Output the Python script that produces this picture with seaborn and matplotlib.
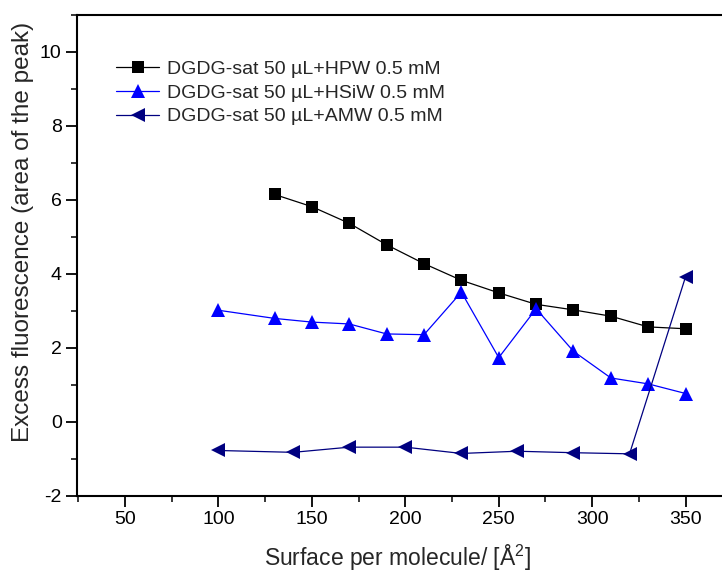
import pandas as pd
import matplotlib
matplotlib.use('Agg')
import matplotlib.pyplot as plt
import seaborn as sns
from matplotlib.ticker import MultipleLocator

# data
hpw_x = [130, 150, 170, 190, 210, 230, 250, 270, 290, 310, 330, 350]
hpw_y = [6.15, 5.82, 5.37, 4.79, 4.28, 3.83, 3.49, 3.18, 3.03, 2.86, 2.57, 2.52]

hsiw_x = [100, 130, 150, 170, 190, 210, 230, 250, 270, 290, 310, 330, 350]
hsiw_y = [3.02, 2.80, 2.70, 2.65, 2.38, 2.36, 3.51, 1.74, 3.06, 1.91, 1.19, 1.03, 0.77]

amw_x = [100, 140, 170, 200, 230, 260, 290, 320, 350]
amw_y = [-0.77, -0.82, -0.68, -0.68, -0.85, -0.79, -0.83, -0.86, 3.93]

labels = ['DGDG-sat 50 \u00b5L+HPW 0.5 mM',
          'DGDG-sat 50 \u00b5L+HSiW 0.5 mM',
          'DGDG-sat 50 \u00b5L+AMW 0.5 mM']

frames = []
for lab, xs, ys in zip(labels, [hpw_x, hsiw_x, amw_x], [hpw_y, hsiw_y, amw_y]):
    frames.append(pd.DataFrame({'x': xs, 'y': ys, 'series': lab}))
df = pd.concat(frames, ignore_index=True)

sns.set_style('ticks')
plt.rcParams['font.family'] = ['Liberation Sans', 'DejaVu Sans']
plt.rcParams['mathtext.fontset'] = 'custom'
plt.rcParams['mathtext.rm'] = 'Liberation Sans'
plt.rcParams['axes.unicode_minus'] = False

fig = plt.figure(figsize=(7.22, 5.74), dpi=100)
ax = fig.add_axes([77 / 722, (574 - 496) / 574, 660 / 722, (496 - 15) / 574])

colors = {labels[0]: 'black', labels[1]: '#0000ff', labels[2]: '#000080'}
markers = {labels[0]: 's', labels[1]: '^', labels[2]: '<'}
sizes = {labels[0]: 8.5, labels[1]: 9.5, labels[2]: 9.5}

for lab in labels:
    sub = df[df['series'] == lab]
    sns.lineplot(data=sub, x='x', y='y', ax=ax, color=colors[lab], marker=markers[lab],
                 markersize=sizes[lab], markeredgewidth=0, linewidth=0.9,
                 sort=False, label=lab)

ax.set_xlim(24.3, 377.5)
ax.set_ylim(-2, 11)
ax.xaxis.set_minor_locator(MultipleLocator(25))
ax.yaxis.set_minor_locator(MultipleLocator(1))
ax.set_xticks([50, 100, 150, 200, 250, 300, 350])
ax.set_yticks([-2, 0, 2, 4, 6, 8, 10])
ax.tick_params(which='major', direction='out', length=8, width=1.3, pad=3,
               labelsize=14, colors='black')
ax.tick_params(which='minor', direction='out', length=4, width=1.3)
for s in ['left', 'bottom', 'top']:
    ax.spines[s].set_linewidth(1.5)
    ax.spines[s].set_color('black')
ax.spines['right'].set_visible(False)

ax.set_xlabel('Surface per molecule/ [\u00c5$^2$]', fontsize=16.5)
ax.set_ylabel('Excess fluorescence (area of the peak)', fontsize=17.5)
ax.xaxis.set_label_coords((398 - 77) / 660, -(543 - 496) / 481)
ax.yaxis.set_label_coords(-(77 - 34) / 660, (496 - 232) / 481)

ax.legend(loc='upper left', bbox_to_anchor=(0.0595, 0.906), frameon=False, fontsize=14,
          handlelength=2.2, handletextpad=0.4, labelspacing=0.32, borderaxespad=0,
          borderpad=0)

fig.savefig('out.png', dpi=100)
